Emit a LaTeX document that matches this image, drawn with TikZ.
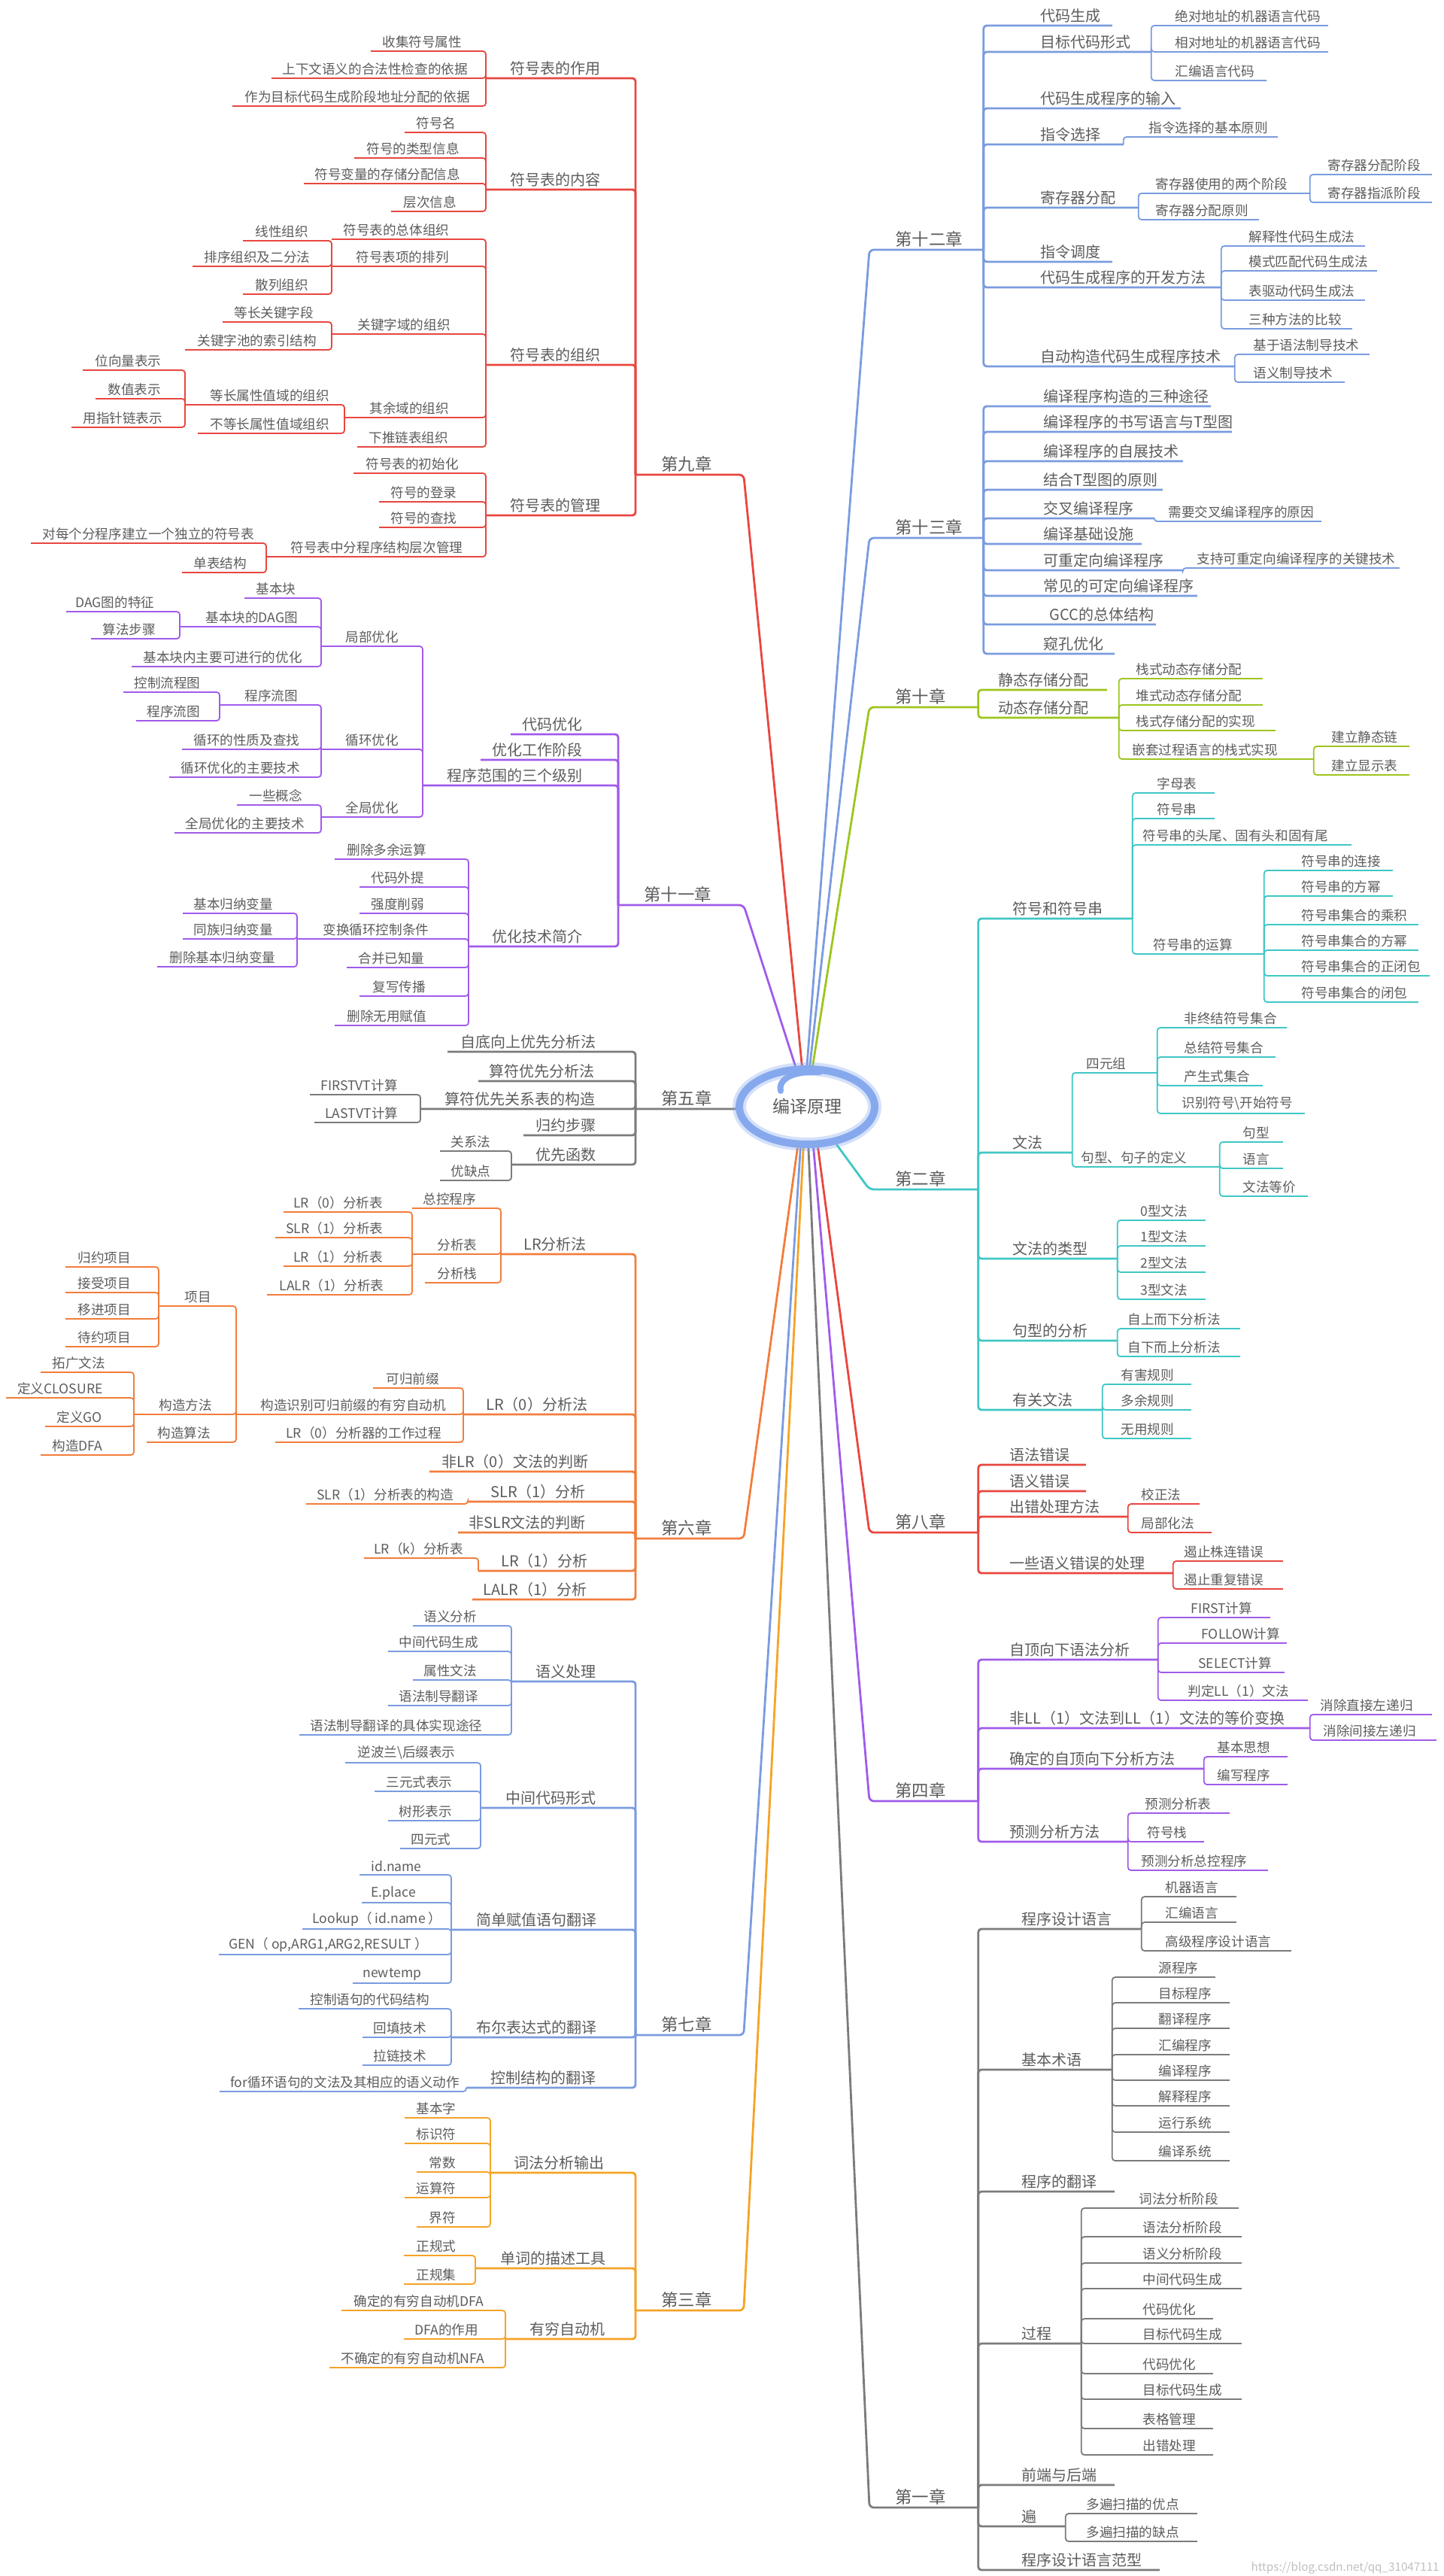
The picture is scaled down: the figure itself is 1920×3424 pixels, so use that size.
\documentclass[tikz,border=0pt]{standalone}
\usepackage{fontspec}
\newfontfamily\zh{Noto Sans CJK SC}
\usetikzlibrary{shapes.geometric}
\definecolor{txt}{HTML}{5C5C5C}
\definecolor{cRed}{HTML}{E8463F}
\definecolor{cPurple}{HTML}{A05BEA}
\definecolor{cGray}{HTML}{7B7B7B}
\definecolor{cOrange}{HTML}{F27D3B}
\definecolor{cBlue}{HTML}{7A9BDF}
\definecolor{cAmber}{HTML}{F5A326}
\definecolor{cGreen}{HTML}{9DC51E}
\definecolor{cTeal}{HTML}{3FC7C5}
\definecolor{ring}{HTML}{86A9EE}
\pgfdeclarelayer{bg}
\pgfsetlayers{bg,main}

\tikzset{
  topic/.style={anchor=south west, inner xsep=0pt, inner ysep=1.8pt, text=txt,
    font=\zh\fontsize{8.8}{10}\selectfont},
  l2/.style={font=\zh\fontsize{10}{12}\selectfont},
  l1/.style={font=\zh\fontsize{11.2}{13}\selectfont},
  link/.style={line width=0.9pt, rounded corners=2pt},
  mlink/.style={line width=1.4pt},
  rlink/.style={line width=1.4pt, rounded corners=3pt},
  root/.style={ellipse, draw=ring, line width=5pt, minimum width=90pt,
    minimum height=50pt, inner sep=0pt, text=txt,
    font=\zh\fontsize{11.5}{13}\selectfont},
}

% 主题：名字, 左端, 右端, 下划线 y, 文字起点, 文字
\newcommand{\tp}[7][]{%
  \pgfmathsetlengthmacro\tpw{(#4-#3)*0.5pt}%
  \pgfmathsetlengthmacro\tpk{(#6-#3)*0.5pt}%
  \node[topic,#1] (#2) at (#3,#5) {\makebox[\tpw][l]{\kern\tpk\relax #7}};}
% 左侧 / 右侧的连线
\newcommand{\linkL}[3][]{\foreach \ch in {#3}{\draw[link,#1] (#2.south west) |- (\ch.south west);}}
\newcommand{\linkR}[3][]{\foreach \ch in {#3}{\draw[link,#1] (#2.south east) |- (\ch.south east);}}

\begin{document}
\begin{tikzpicture}[x=0.5pt, y=-0.5pt]
  \useasboundingbox (0,0) rectangle (1920,3424);

  % 中心
  \draw[ring, opacity=.35, line width=9pt] (1073,1471) ellipse [x radius=45pt, y radius=25pt];
  \node[root] (root) at (1073,1471) {编译原理};
  \draw[ring, line width=4pt, line cap=round] (1038,1450) .. controls (1034,1432) and (1060,1423) .. (1090,1425);

  % 第九章
  \begin{scope}[color=cRed]
    \tp[l1]{c9}{845}{988}{631}{879}{第九章}
    \tp[l2]{c9a}{646}{845}{104}{678}{符号表的作用}
    \tp[l2]{c9b}{646}{845}{252}{678}{符号表的内容}
    \tp[l2]{c9c}{646}{845}{485}{678}{符号表的组织}
    \tp[l2]{c9d}{646}{845}{685}{678}{符号表的管理}
    \tp{c9a1}{493}{646}{68}{508}{收集符号属性}
    \tp{c9a2}{361}{646}{104}{375}{上下文语义的合法性检查的依据}
    \tp{c9a3}{309}{646}{141}{325}{作为目标代码生成阶段地址分配的依据}
    \tp{c9b1}{538}{646}{176}{553}{符号名}
    \tp{c9b2}{471}{646}{210}{487}{符号的类型信息}
    \tp{c9b3}{404}{646}{244}{418}{符号变量的存储分配信息}
    \tp{c9b4}{520}{646}{281}{536}{层次信息}
    \tp{c9c1}{441}{646}{318}{456}{符号表的总体组织}
    \tp{c9c2}{441}{646}{354}{473}{符号表项的排列}
    \tp{c9c3}{441}{646}{444}{475}{关键字域的组织}
    \tp{c9c4}{458}{646}{555}{491}{其余域的组织}
    \tp{c9c5}{475}{646}{594}{490}{下推链表组织}
    \tp{c9c21}{323}{441}{320}{339}{线性组织}
    \tp{c9c22}{256}{441}{354}{271}{排序组织及二分法}
    \tp{c9c23}{323}{441}{391}{339}{散列组织}
    \tp{c9c31}{296}{441}{428}{311}{等长关键字段}
    \tp{c9c32}{246}{441}{465}{262}{关键字池的索引结构}
    \tp{c9c41}{246}{458}{538}{279}{等长属性值域的组织}
    \tp{c9c42}{263}{458}{576}{279}{不等长属性值域组织}
    \tp{c9c411}{110}{246}{492}{126}{位向量表示}
    \tp{c9c412}{127}{246}{530}{143}{数值表示}
    \tp{c9c413}{95}{246}{568}{110}{用指针链表示}
    \tp{c9d1}{470}{646}{629}{486}{符号表的初始化}
    \tp{c9d2}{504}{646}{667}{519}{符号的登录}
    \tp{c9d3}{504}{646}{701}{519}{符号的查找}
    \tp{c9d4}{354}{646}{740}{386}{符号表中分程序结构层次管理}
    \tp{c9d41}{41}{354}{722}{56}{对每个分程序建立一个独立的符号表}
    \tp{c9d42}{242}{354}{761}{257}{单表结构}
    \linkL[mlink]{c9}{c9a,c9b,c9c,c9d}
    \linkL{c9a}{c9a1,c9a2,c9a3}
    \linkL{c9b}{c9b1,c9b2,c9b3,c9b4}
    \linkL{c9c}{c9c1,c9c2,c9c3,c9c4,c9c5}
    \linkL{c9c2}{c9c21,c9c22,c9c23}
    \linkL{c9c3}{c9c31,c9c32}
    \linkL{c9c4}{c9c41,c9c42}
    \linkL{c9c41}{c9c411,c9c412,c9c413}
    \linkL{c9d}{c9d1,c9d2,c9d3,c9d4}
    \linkL{c9d4}{c9d41,c9d42}
  \end{scope}

  % 第十一章
  \begin{scope}[color=cPurple]
    \tp[l1]{c11}{822}{988}{1203}{856}{第十一章}
    \tp[l2]{c11a}{679}{822}{976}{694}{代码优化}
    \tp[l2]{c11b}{639}{822}{1010}{654}{优化工作阶段}
    \tp[l2]{c11c}{562}{822}{1044}{594}{程序范围的三个级别}
    \tp[l2]{c11d}{623}{822}{1258}{654}{优化技术简介}
    \tp{c11c1}{427}{562}{859}{459}{局部优化}
    \tp{c11c2}{427}{562}{996}{459}{循环优化}
    \tp{c11c3}{427}{562}{1086}{459}{全局优化}
    \tp{c11c11}{325}{427}{795}{340}{基本块}
    \tp{c11c12}{239}{427}{833}{273}{基本块的DAG图}
    \tp{c11c13}{175}{427}{886}{190}{基本块内主要可进行的优化}
    \tp{c11c121}{88}{239}{813}{100}{DAG图的特征}
    \tp{c11c122}{121}{239}{849}{136}{算法步骤}
    \tp{c11c21}{292}{427}{937}{325}{程序流图}
    \tp{c11c22}{242}{427}{996}{257}{循环的性质及查找}
    \tp{c11c23}{225}{427}{1033}{240}{循环优化的主要技术}
    \tp{c11c211}{164}{292}{920}{178}{控制流程图}
    \tp{c11c212}{181}{292}{958}{195}{程序流图}
    \tp{c11c31}{315}{427}{1070}{331}{一些概念}
    \tp{c11c32}{232}{427}{1107}{246}{全局优化的主要技术}
    \tp{c11d1}{445}{623}{1142}{461}{删除多余运算}
    \tp{c11d2}{478}{623}{1179}{493}{代码外提}
    \tp{c11d3}{478}{623}{1214}{493}{强度削弱}
    \tp{c11d4}{395}{623}{1248}{429}{变换循环控制条件}
    \tp{c11d5}{461}{623}{1286}{476}{合并已知量}
    \tp{c11d6}{478}{623}{1324}{495}{复写传播}
    \tp{c11d7}{445}{623}{1363}{461}{删除无用赋值}
    \tp{c11d41}{243}{395}{1214}{257}{基本归纳变量}
    \tp{c11d42}{243}{395}{1248}{257}{同族归纳变量}
    \tp{c11d43}{209}{395}{1285}{225}{删除基本归纳变量}
    \linkL[mlink]{c11}{c11a,c11b,c11c,c11d}
    \linkL{c11c}{c11c1,c11c2,c11c3}
    \linkL{c11c1}{c11c11,c11c12,c11c13}
    \linkL{c11c12}{c11c121,c11c122}
    \linkL{c11c2}{c11c21,c11c22,c11c23}
    \linkL{c11c21}{c11c211,c11c212}
    \linkL{c11c3}{c11c31,c11c32}
    \linkL{c11d}{c11d1,c11d2,c11d3,c11d4,c11d5,c11d6,c11d7}
    \linkL{c11d4}{c11d41,c11d42,c11d43}
  \end{scope}

  % 第五章
  \begin{scope}[color=cGray]
    \tp[l1]{c5}{845}{988}{1474}{879}{第五章}
    \tp[l2]{c5a}{595}{845}{1398}{612}{自底向上优先分析法}
    \tp[l2]{c5b}{636}{845}{1437}{650}{算符优先分析法}
    \tp[l2]{c5c}{559}{845}{1474}{591}{算符优先关系表的构造}
    \tp[l2]{c5d}{696}{845}{1509}{712}{归约步骤}
    \tp[l2]{c5e}{680}{845}{1548}{712}{优先函数}
    \tp{c5c1}{412}{559}{1455}{426}{FIRSTVT计算}
    \tp{c5c2}{418}{559}{1492}{432}{LASTVT计算}
    \tp{c5e1}{585}{680}{1530}{599}{关系法}
    \tp{c5e2}{585}{680}{1569}{599}{优缺点}
    \linkL[mlink]{c5}{c5a,c5b,c5c,c5d,c5e}
    \linkL{c5c}{c5c1,c5c2}
    \linkL{c5e}{c5e1,c5e2}
  \end{scope}

  % 第六章
  \begin{scope}[color=cOrange]
    \tp[l1]{c6}{845}{988}{2045}{879}{第六章}
    \tp[l2]{c6a}{666}{845}{1667}{696}{LR分析法}
    \tp[l2]{c6b}{616}{845}{1880}{646}{LR（0）分析法}
    \tp[l2]{c6c}{571}{845}{1956}{587}{非LR（0）文法的判断}
    \tp[l2]{c6d}{622}{845}{1996}{652}{SLR（1）分析}
    \tp[l2]{c6e}{609}{845}{2037}{623}{非SLR文法的判断}
    \tp[l2]{c6f}{636}{845}{2088}{666}{LR（1）分析}
    \tp[l2]{c6g}{628}{845}{2126}{642}{LALR（1）分析}
    \tp{c6a1}{548}{666}{1606}{562}{总控程序}
    \tp{c6a2}{548}{666}{1667}{581}{分析表}
    \tp{c6a3}{565}{666}{1705}{581}{分析栈}
    \tp{c6a21}{377}{548}{1611}{390}{LR（0）分析表}
    \tp{c6a22}{366}{548}{1645}{380}{SLR（1）分析表}
    \tp{c6a23}{377}{548}{1683}{390}{LR（1）分析表}
    \tp{c6a24}{355}{548}{1721}{371}{LALR（1）分析表}
    \tp{c6b1}{496}{616}{1845}{513}{可归前缀}
    \tp{c6b2}{314}{616}{1880}{346}{构造识别可归前缀的有穷自动机}
    \tp{c6b3}{366}{616}{1917}{380}{LR（0）分析器的工作过程}
    \tp{c6b21}{211}{314}{1736}{245}{项目}
    \tp{c6b22}{178}{314}{1880}{211}{构造方法}
    \tp{c6b23}{195}{314}{1917}{209}{构造算法}
    \tp{c6b211}{87}{211}{1684}{103}{归约项目}
    \tp{c6b212}{87}{211}{1718}{103}{接受项目}
    \tp{c6b213}{87}{211}{1753}{103}{移进项目}
    \tp{c6b214}{87}{211}{1790}{103}{待约项目}
    \tp{c6b221}{54}{178}{1824}{69}{拓广文法}
    \tp{c6b222}{8}{178}{1858}{23}{定义CLOSURE}
    \tp{c6b223}{60}{178}{1896}{75}{定义GO}
    \tp{c6b224}{54}{178}{1934}{69}{构造DFA}
    \tp{c6d1}{407}{622}{1999}{421}{SLR（1）分析表的构造}
    \tp{c6f1}{484}{636}{2071}{497}{LR（k）分析表}
    \linkL[mlink]{c6}{c6a,c6b,c6c,c6d,c6e,c6f,c6g}
    \linkL{c6a}{c6a1,c6a2,c6a3}
    \linkL{c6a2}{c6a21,c6a22,c6a23,c6a24}
    \linkL{c6b}{c6b1,c6b2,c6b3}
    \linkL{c6b2}{c6b21,c6b22,c6b23}
    \linkL{c6b21}{c6b211,c6b212,c6b213,c6b214}
    \linkL{c6b22}{c6b221,c6b222,c6b223,c6b224}
    \linkL{c6d}{c6d1}
    \linkL{c6f}{c6f1}
  \end{scope}

  % 第七章
  \begin{scope}[color=cBlue]
    \tp[l1]{c7}{845}{988}{2705}{879}{第七章}
    \tp[l2]{c7a}{680}{845}{2235}{712}{语义处理}
    \tp[l2]{c7b}{639}{845}{2403}{672}{中间代码形式}
    \tp[l2]{c7c}{600}{845}{2565}{633}{简单赋值语句翻译}
    \tp[l2]{c7d}{600}{845}{2708}{633}{布尔表达式的翻译}
    \tp[l2]{c7e}{620}{845}{2775}{652}{控制结构的翻译}
    \tp{c7a1}{549}{680}{2161}{563}{语义分析}
    \tp{c7a2}{516}{680}{2195}{530}{中间代码生成}
    \tp{c7a3}{549}{680}{2233}{563}{属性文法}
    \tp{c7a4}{516}{680}{2267}{530}{语法制导翻译}
    \tp{c7a5}{398}{680}{2306}{412}{语法制导翻译的具体实现途径}
    \tp{c7b1}{459}{639}{2343}{475}{逆波兰\textbackslash 后缀表示}
    \tp{c7b2}{498}{639}{2381}{513}{三元式表示}
    \tp{c7b3}{516}{639}{2420}{530}{树形表示}
    \tp{c7b4}{532}{639}{2457}{546}{四元式}
    \tp{c7c1}{478}{600}{2492}{493}{id.name}
    \tp{c7c2}{481}{600}{2529}{493}{E.place}
    \tp{c7c3}{402}{600}{2564}{415}{Lookup（ id.name ）}
    \tp{c7c4}{291}{600}{2598}{304}{GEN（ op,ARG1,ARG2,RESULT ）}
    \tp{c7c5}{469}{600}{2636}{482}{newtemp}
    \tp{c7d1}{397}{600}{2670}{412}{控制语句的代码结构}
    \tp{c7d2}{482}{600}{2708}{496}{回填技术}
    \tp{c7d3}{482}{600}{2745}{496}{拉链技术}
    \tp{c7e1}{292}{620}{2780}{306}{for循环语句的文法及其相应的语义动作}
    \linkL[mlink]{c7}{c7a,c7b,c7c,c7d,c7e}
    \linkL{c7a}{c7a1,c7a2,c7a3,c7a4,c7a5}
    \linkL{c7b}{c7b1,c7b2,c7b3,c7b4}
    \linkL{c7c}{c7c1,c7c2,c7c3,c7c4,c7c5}
    \linkL{c7d}{c7d1,c7d2,c7d3}
    \linkL{c7e}{c7e1}
  \end{scope}

  % 第三章
  \begin{scope}[color=cAmber]
    \tp[l1]{c3}{845}{988}{3071}{879}{第三章}
    \tp[l2]{c3a}{652}{845}{2888}{683}{词法分析输出}
    \tp[l2]{c3b}{632}{845}{3015}{665}{单词的描述工具}
    \tp[l2]{c3c}{672}{845}{3109}{704}{有穷自动机}
    \tp{c3a1}{538}{652}{2815}{553}{基本字}
    \tp{c3a2}{538}{652}{2849}{553}{标识符}
    \tp{c3a3}{554}{652}{2887}{570}{常数}
    \tp{c3a4}{538}{652}{2921}{553}{运算符}
    \tp{c3a5}{554}{652}{2960}{570}{界符}
    \tp{c3b1}{537}{632}{2998}{553}{正规式}
    \tp{c3b2}{537}{632}{3036}{553}{正规集}
    \tp{c3c1}{454}{672}{3071}{470}{确定的有穷自动机DFA}
    \tp{c3c2}{537}{672}{3109}{551}{DFA的作用}
    \tp{c3c3}{438}{672}{3147}{453}{不确定的有穷自动机NFA}
    \linkL[mlink]{c3}{c3a,c3b,c3c}
    \linkL{c3a}{c3a1,c3a2,c3a3,c3a4,c3a5}
    \linkL{c3b}{c3b1,c3b2}
    \linkL{c3c}{c3c1,c3c2,c3c3}
  \end{scope}

  % 第十二章
  \begin{scope}[color=cBlue]
    \tp[l1]{c12}{1156}{1307}{332}{1190}{第十二章}
    \tp[l2]{c12a}{1307}{1478}{34}{1383}{代码生成}
    \tp[l2]{c12b}{1307}{1530}{69}{1383}{目标代码形式}
    \tp[l2]{c12c}{1307}{1569}{144}{1383}{代码生成程序的输入}
    \tp[l2]{c12d}{1307}{1493}{192}{1383}{指令选择}
    \tp[l2]{c12e}{1307}{1513}{276}{1383}{寄存器分配}
    \tp[l2]{c12f}{1307}{1478}{348}{1383}{指令调度}
    \tp[l2]{c12g}{1307}{1623}{382}{1383}{代码生成程序的开发方法}
    \tp[l2]{c12h}{1307}{1641}{487}{1383}{自动构造代码生成程序技术}
    \tp{c12b1}{1530}{1765}{34}{1562}{绝对地址的机器语言代码}
    \tp{c12b2}{1530}{1765}{69}{1562}{相对地址的机器语言代码}
    \tp{c12b3}{1530}{1683}{107}{1562}{汇编语言代码}
    \tp{c12d1}{1493}{1698}{182}{1527}{指令选择的基本原则}
    \tp{c12e1}{1513}{1741}{257}{1536}{寄存器使用的两个阶段}
    \tp{c12e2}{1513}{1673}{292}{1536}{寄存器分配原则}
    \tp{c12e11}{1741}{1903}{232}{1765}{寄存器分配阶段}
    \tp{c12e12}{1741}{1903}{269}{1765}{寄存器指派阶段}
    \tp{c12g1}{1623}{1814}{327}{1660}{解释性代码生成法}
    \tp{c12g2}{1623}{1830}{360}{1660}{模式匹配代码生成法}
    \tp{c12g3}{1623}{1814}{399}{1660}{表驱动代码生成法}
    \tp{c12g4}{1623}{1797}{437}{1660}{三种方法的比较}
    \tp{c12h1}{1641}{1820}{471}{1666}{基于语法制导技术}
    \tp{c12h2}{1641}{1787}{508}{1666}{语义制导技术}
    \linkR[mlink]{c12}{c12a,c12b,c12c,c12d,c12e,c12f,c12g,c12h}
    \linkR{c12b}{c12b1,c12b2,c12b3}
    \linkR{c12d}{c12d1}
    \linkR{c12e}{c12e1,c12e2}
    \linkR{c12e1}{c12e11,c12e12}
    \linkR{c12g}{c12g1,c12g2,c12g3,c12g4}
    \linkR{c12h}{c12h1,c12h2}
  \end{scope}

  % 第十三章
  \begin{scope}[color=cBlue]
    \tp[l1]{c13}{1156}{1307}{715}{1190}{第十三章}
    \tp[l2]{c13a}{1307}{1609}{540}{1387}{编译程序构造的三种途径}
    \tp[l2]{c13b}{1307}{1637}{574}{1387}{编译程序的书写语言与T型图}
    \tp[l2]{c13c}{1307}{1572}{613}{1387}{编译程序的自展技术}
    \tp[l2]{c13d}{1307}{1545}{651}{1387}{结合T型图的原则}
    \tp[l2]{c13e}{1307}{1534}{689}{1387}{交叉编译程序}
    \tp[l2]{c13f}{1307}{1517}{723}{1387}{编译基础设施}
    \tp[l2]{c13g}{1307}{1572}{758}{1387}{可重定向编译程序}
    \tp[l2]{c13h}{1307}{1591}{792}{1387}{常见的可定向编译程序}
    \tp[l2]{c13i}{1307}{1536}{830}{1395}{GCC的总体结构}
    \tp[l2]{c13j}{1307}{1481}{869}{1387}{窥孔优化}
    \tp{c13e1}{1534}{1756}{693}{1553}{需要交叉编译程序的原因}
    \tp{c13g1}{1572}{1860}{755}{1591}{支持可重定向编译程序的关键技术}
    \linkR[mlink]{c13}{c13a,c13b,c13c,c13d,c13e,c13f,c13g,c13h,c13i,c13j}
    \linkR{c13e}{c13e1}
    \linkR{c13g}{c13g1}
  \end{scope}

  % 第十章
  \begin{scope}[color=cGreen]
    \tp[l1]{c10}{1156}{1300}{940}{1190}{第十章}
    \tp[l2]{c10a}{1300}{1471}{917}{1327}{静态存储分配}
    \tp[l2]{c10b}{1300}{1487}{954}{1327}{动态存储分配}
    \tp{c10b1}{1487}{1678}{902}{1510}{栈式动态存储分配}
    \tp{c10b2}{1487}{1678}{937}{1510}{堆式动态存储分配}
    \tp{c10b3}{1487}{1695}{971}{1510}{栈式存储分配的实现}
    \tp{c10b4}{1487}{1746}{1009}{1505}{嵌套过程语言的栈式实现}
    \tp{c10b41}{1746}{1873}{992}{1770}{建立静态链}
    \tp{c10b42}{1746}{1873}{1030}{1770}{建立显示表}
    \linkR[mlink]{c10}{c10a,c10b}
    \linkR{c10b}{c10b1,c10b2,c10b3,c10b4}
    \linkR{c10b4}{c10b41,c10b42}
  \end{scope}

  % 第二章
  \begin{scope}[color=cTeal]
    \tp[l1]{c2}{1156}{1300}{1581}{1190}{第二章}
    \tp[l2]{c2a}{1300}{1505}{1221}{1346}{符号和符号串}
    \tp[l2]{c2b}{1300}{1425}{1532}{1346}{文法}
    \tp[l2]{c2c}{1300}{1485}{1673}{1346}{文法的类型}
    \tp[l2]{c2d}{1300}{1485}{1782}{1346}{句型的分析}
    \tp[l2]{c2e}{1300}{1465}{1874}{1346}{有关文法}
    \tp{c2a1}{1505}{1614}{1054}{1538}{字母表}
    \tp{c2a2}{1505}{1614}{1088}{1538}{符号串}
    \tp{c2a3}{1505}{1796}{1123}{1519}{符号串的头尾、固有头和固有尾}
    \tp{c2a4}{1505}{1680}{1268}{1533}{符号串的运算}
    \tp{c2a41}{1680}{1851}{1157}{1730}{符号串的连接}
    \tp{c2a42}{1680}{1851}{1191}{1730}{符号串的方幂}
    \tp{c2a43}{1680}{1885}{1229}{1730}{符号串集合的乘积}
    \tp{c2a44}{1680}{1885}{1263}{1730}{符号串集合的方幂}
    \tp{c2a45}{1680}{1900}{1297}{1730}{符号串集合的正闭包}
    \tp{c2a46}{1680}{1885}{1332}{1730}{符号串集合的闭包}
    \tp{c2b1}{1425}{1538}{1426}{1444}{四元组}
    \tp{c2b2}{1425}{1621}{1551}{1437}{句型、句子的定义}
    \tp{c2b11}{1538}{1710}{1366}{1574}{非终结符号集合}
    \tp{c2b12}{1538}{1695}{1405}{1574}{总结符号集合}
    \tp{c2b13}{1538}{1678}{1443}{1574}{产生式集合}
    \tp{c2b14}{1538}{1734}{1480}{1571}{识别符号\textbackslash 开始符号}
    \tp{c2b21}{1621}{1705}{1518}{1652}{句型}
    \tp{c2b22}{1621}{1705}{1553}{1652}{语言}
    \tp{c2b23}{1621}{1738}{1590}{1652}{文法等价}
    \tp{c2c1}{1485}{1602}{1622}{1516}{0型文法}
    \tp{c2c2}{1485}{1602}{1656}{1516}{1型文法}
    \tp{c2c3}{1485}{1602}{1691}{1516}{2型文法}
    \tp{c2c4}{1485}{1602}{1727}{1516}{3型文法}
    \tp{c2d1}{1485}{1648}{1766}{1499}{自上而下分析法}
    \tp{c2d2}{1485}{1648}{1803}{1499}{自下而上分析法}
    \tp{c2e1}{1465}{1583}{1840}{1490}{有害规则}
    \tp{c2e2}{1465}{1583}{1874}{1490}{多余规则}
    \tp{c2e3}{1465}{1583}{1912}{1490}{无用规则}
    \linkR[mlink]{c2}{c2a,c2b,c2c,c2d,c2e}
    \linkR{c2a}{c2a1,c2a2,c2a3,c2a4}
    \linkR{c2a4}{c2a41,c2a42,c2a43,c2a44,c2a45,c2a46}
    \linkR{c2b}{c2b1,c2b2}
    \linkR{c2b1}{c2b11,c2b12,c2b13,c2b14}
    \linkR{c2b2}{c2b21,c2b22,c2b23}
    \linkR{c2c}{c2c1,c2c2,c2c3,c2c4}
    \linkR{c2d}{c2d1,c2d2}
    \linkR{c2e}{c2e1,c2e2,c2e3}
  \end{scope}

  % 第八章
  \begin{scope}[color=cRed]
    \tp[l1]{c8}{1156}{1300}{2037}{1190}{第八章}
    \tp[l2]{c8a}{1300}{1443}{1947}{1342}{语法错误}
    \tp[l2]{c8b}{1300}{1443}{1982}{1342}{语义错误}
    \tp[l2]{c8c}{1300}{1499}{2016}{1342}{出错处理方法}
    \tp[l2]{c8d}{1300}{1559}{2091}{1342}{一些语义错误的处理}
    \tp{c8c1}{1499}{1594}{1999}{1517}{校正法}
    \tp{c8c2}{1499}{1610}{2037}{1517}{局部化法}
    \tp{c8d1}{1559}{1705}{2075}{1574}{遏止株连错误}
    \tp{c8d2}{1559}{1705}{2112}{1574}{遏止重复错误}
    \linkR[mlink]{c8}{c8a,c8b,c8c,c8d}
    \linkR{c8c}{c8c1,c8c2}
    \linkR{c8d}{c8d1,c8d2}
  \end{scope}

  % 第四章
  \begin{scope}[color=cPurple]
    \tp[l1]{c4}{1156}{1300}{2394}{1190}{第四章}
    \tp[l2]{c4a}{1300}{1539}{2206}{1342}{自顶向下语法分析}
    \tp[l2]{c4b}{1300}{1741}{2297}{1342}{非LL（1）文法到LL（1）文法的等价变换}
    \tp[l2]{c4c}{1300}{1600}{2351}{1342}{确定的自顶向下分析方法}
    \tp[l2]{c4d}{1300}{1499}{2448}{1342}{预测分析方法}
    \tp{c4a1}{1539}{1688}{2150}{1583}{FIRST计算}
    \tp{c4a2}{1539}{1710}{2184}{1597}{FOLLOW计算}
    \tp{c4a3}{1539}{1707}{2223}{1593}{SELECT计算}
    \tp{c4a4}{1539}{1738}{2260}{1579}{判定LL（1）文法}
    \tp{c4b1}{1741}{1903}{2279}{1755}{消除直接左递归}
    \tp{c4b2}{1741}{1909}{2313}{1759}{消除间接左递归}
    \tp{c4c1}{1600}{1711}{2335}{1618}{基本思想}
    \tp{c4c2}{1600}{1711}{2372}{1618}{编写程序}
    \tp{c4d1}{1499}{1634}{2410}{1522}{预测分析表}
    \tp{c4d2}{1499}{1600}{2448}{1525}{符号栈}
    \tp{c4d3}{1499}{1685}{2486}{1517}{预测分析总控程序}
    \linkR[mlink]{c4}{c4a,c4b,c4c,c4d}
    \linkR{c4a}{c4a1,c4a2,c4a3,c4a4}
    \linkR{c4b}{c4b1,c4b2}
    \linkR{c4c}{c4c1,c4c2}
    \linkR{c4d}{c4d1,c4d2,c4d3}
  \end{scope}

  % 第一章
  \begin{scope}[color=cGray]
    \tp[l1]{c1}{1156}{1300}{3333}{1190}{第一章}
    \tp[l2]{c1a}{1300}{1517}{2564}{1358}{程序设计语言}
    \tp[l2]{c1b}{1300}{1478}{2751}{1358}{基本术语}
    \tp[l2]{c1c}{1300}{1481}{2913}{1358}{程序的翻译}
    \tp[l2]{c1d}{1300}{1437}{3115}{1358}{过程}
    \tp[l2]{c1e}{1300}{1481}{3303}{1358}{前端与后端}
    \tp[l2]{c1f}{1300}{1416}{3358}{1358}{遍}
    \tp[l2]{c1g}{1300}{1541}{3416}{1358}{程序设计语言范型}
    \tp{c1a1}{1517}{1643}{2521}{1549}{机器语言}
    \tp{c1a2}{1517}{1643}{2555}{1549}{汇编语言}
    \tp{c1a3}{1517}{1716}{2593}{1549}{高级程序设计语言}
    \tp{c1b1}{1478}{1615}{2628}{1540}{源程序}
    \tp{c1b2}{1478}{1634}{2662}{1540}{目标程序}
    \tp{c1b3}{1478}{1634}{2696}{1540}{翻译程序}
    \tp{c1b4}{1478}{1634}{2731}{1540}{汇编程序}
    \tp{c1b5}{1478}{1634}{2765}{1540}{编译程序}
    \tp{c1b6}{1478}{1634}{2799}{1540}{解释程序}
    \tp{c1b7}{1478}{1634}{2834}{1540}{运行系统}
    \tp{c1b8}{1478}{1634}{2872}{1540}{编译系统}
    \tp{c1d1}{1437}{1646}{2935}{1514}{词法分析阶段}
    \tp{c1d2}{1437}{1650}{2973}{1519}{语法分析阶段}
    \tp{c1d3}{1437}{1650}{3008}{1519}{语义分析阶段}
    \tp{c1d4}{1437}{1650}{3042}{1519}{中间代码生成}
    \tp{c1d5}{1437}{1612}{3082}{1519}{代码优化}
    \tp{c1d6}{1437}{1650}{3115}{1519}{目标代码生成}
    \tp{c1d7}{1437}{1612}{3155}{1519}{代码优化}
    \tp{c1d8}{1437}{1650}{3189}{1519}{目标代码生成}
    \tp{c1d9}{1437}{1612}{3228}{1519}{表格管理}
    \tp{c1d10}{1437}{1612}{3263}{1519}{出错处理}
    \tp{c1f1}{1416}{1591}{3341}{1444}{多遍扫描的优点}
    \tp{c1f2}{1416}{1591}{3378}{1444}{多遍扫描的缺点}
    \linkR[mlink]{c1}{c1a,c1b,c1c,c1d,c1e,c1f,c1g}
    \linkR{c1a}{c1a1,c1a2,c1a3}
    \linkR{c1b}{c1b1,c1b2,c1b3,c1b4,c1b5,c1b6,c1b7,c1b8}
    \linkR{c1d}{c1d1,c1d2,c1d3,c1d4,c1d5,c1d6,c1d7,c1d8,c1d9,c1d10}
    \linkR{c1f}{c1f1,c1f2}
  \end{scope}

  % 中心到各章
  \begin{pgfonlayer}{bg}
    \draw[rlink,cPurple] (root.106) -- (c11.south east) -- (c11.south west);
    \draw[rlink,cRed] (root.97) -- (c9.south east) -- (c9.south west);
    \draw[rlink,cBlue] (root.90) -- (c12.south west) -- (c12.south east);
    \draw[rlink,cBlue] (root.86) -- (c13.south west) -- (c13.south east);
    \draw[rlink,cGreen] (root.82) -- (c10.south west) -- (c10.south east);
    \draw[rlink,cGray] (root.west) -- (c5.south east) -- (c5.south west);
    \draw[rlink,cTeal] (root.308) -- (c2.south west) -- (c2.south east);
    \draw[rlink,cOrange] (root.257) -- (c6.south east) -- (c6.south west);
    \draw[rlink,cBlue] (root.261) -- (c7.south east) -- (c7.south west);
    \draw[rlink,cAmber] (root.265) -- (c3.south east) -- (c3.south west);
    \draw[rlink,cGray] (root.272) -- (c1.south west) -- (c1.south east);
    \draw[rlink,cPurple] (root.279) -- (c4.south west) -- (c4.south east);
    \draw[rlink,cRed] (root.285) -- (c8.south west) -- (c8.south east);
  \end{pgfonlayer}

  \node[anchor=south east, inner sep=0pt, text=black!25, font=\zh\fontsize{7.6}{9}\selectfont] (wm) at (1914,3422) {https://blog.csdn.net/qq\_31047111};
\end{tikzpicture}
\end{document}
